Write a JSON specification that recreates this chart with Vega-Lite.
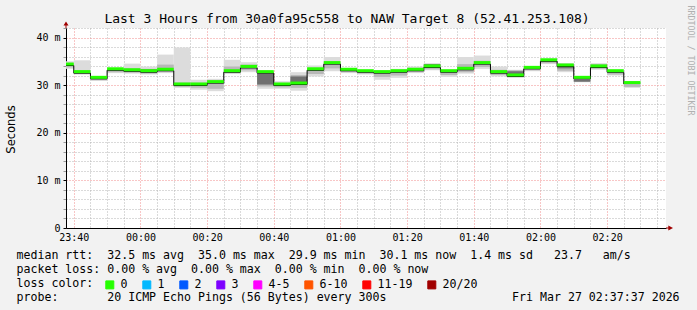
{
  "$schema": "https://vega.github.io/schema/vega-lite/v6.json",
  "width": 600,
  "height": 200,
  "autosize": {"type": "none"},
  "padding": {"left": 66, "top": 28, "right": 31, "bottom": 82},
  "background": "#f2f2f2",
  "config": {"view": {"fill": "#ffffff", "stroke": null}},
  "title": {
    "text": "Last 3 Hours from 30a0fa95c558 to NAW Target 8 (52.41.253.108)",
    "font": "DejaVu Sans Mono", "fontSize": 13, "fontWeight": "normal", "color": "#000000",
    "anchor": "middle", "dx": -19, "dy": 25, "offset": 4
  },
  "datasets": {
    "smoke": [
      {"t":"2026-03-26T23:35:00Z","t2":"2026-03-26T23:40:00Z","lo":33.5,"hi":35.1,"lo2":33.8,"hi2":34.6,"med":34.2,"loss":"0"},
      {"t":"2026-03-26T23:40:00Z","t2":"2026-03-26T23:45:00Z","lo":32.3,"hi":35.3,"lo2":32.4,"hi2":33.2,"med":32.6,"loss":"0"},
      {"t":"2026-03-26T23:45:00Z","t2":"2026-03-26T23:50:00Z","lo":31.0,"hi":31.9,"lo2":31.1,"hi2":31.7,"med":31.4,"loss":"0"},
      {"t":"2026-03-26T23:50:00Z","t2":"2026-03-26T23:55:00Z","lo":32.6,"hi":33.7,"lo2":32.8,"hi2":33.5,"med":33.2,"loss":"0"},
      {"t":"2026-03-26T23:55:00Z","t2":"2026-03-27T00:00:00Z","lo":32.5,"hi":34.6,"lo2":32.7,"hi2":33.6,"med":33.0,"loss":"0"},
      {"t":"2026-03-27T00:00:00Z","t2":"2026-03-27T00:05:00Z","lo":32.3,"hi":34.0,"lo2":32.5,"hi2":33.5,"med":32.8,"dlo":33.0,"dhi":33.4,"loss":"0"},
      {"t":"2026-03-27T00:05:00Z","t2":"2026-03-27T00:10:00Z","lo":32.6,"hi":36.5,"lo2":32.8,"hi2":34.4,"med":33.1,"loss":"0"},
      {"t":"2026-03-27T00:10:00Z","t2":"2026-03-27T00:15:00Z","lo":29.5,"hi":38.0,"lo2":29.7,"hi2":30.6,"med":30.0,"loss":"0"},
      {"t":"2026-03-27T00:15:00Z","t2":"2026-03-27T00:20:00Z","lo":29.1,"hi":31.2,"lo2":29.5,"hi2":30.6,"med":30.0,"loss":"0"},
      {"t":"2026-03-27T00:20:00Z","t2":"2026-03-27T00:25:00Z","lo":28.8,"hi":31.4,"lo2":29.3,"hi2":30.9,"med":30.5,"loss":"0"},
      {"t":"2026-03-27T00:25:00Z","t2":"2026-03-27T00:30:00Z","lo":32.4,"hi":35.4,"lo2":32.6,"hi2":34.0,"med":32.8,"loss":"0"},
      {"t":"2026-03-27T00:30:00Z","t2":"2026-03-27T00:35:00Z","lo":32.8,"hi":34.9,"lo2":33.2,"hi2":34.4,"med":33.7,"loss":"0"},
      {"t":"2026-03-27T00:35:00Z","t2":"2026-03-27T00:40:00Z","lo":29.3,"hi":33.0,"lo2":29.8,"hi2":32.9,"med":32.6,"dlo":30.2,"dhi":32.5,"loss":"0"},
      {"t":"2026-03-27T00:40:00Z","t2":"2026-03-27T00:45:00Z","lo":29.3,"hi":30.9,"lo2":29.6,"hi2":30.5,"med":30.0,"loss":"0"},
      {"t":"2026-03-27T00:45:00Z","t2":"2026-03-27T00:50:00Z","lo":28.9,"hi":32.8,"lo2":29.5,"hi2":32.2,"med":30.2,"dlo":30.6,"dhi":31.9,"loss":"0"},
      {"t":"2026-03-27T00:50:00Z","t2":"2026-03-27T00:55:00Z","lo":31.9,"hi":34.2,"lo2":32.4,"hi2":33.7,"med":33.2,"loss":"0"},
      {"t":"2026-03-27T00:55:00Z","t2":"2026-03-27T01:00:00Z","lo":33.0,"hi":36.0,"lo2":33.6,"hi2":35.0,"med":34.5,"loss":"0"},
      {"t":"2026-03-27T01:00:00Z","t2":"2026-03-27T01:05:00Z","lo":32.6,"hi":33.5,"lo2":32.8,"hi2":33.3,"med":33.1,"loss":"0"},
      {"t":"2026-03-27T01:05:00Z","t2":"2026-03-27T01:10:00Z","lo":32.3,"hi":33.2,"lo2":32.5,"hi2":33.0,"med":32.8,"loss":"0"},
      {"t":"2026-03-27T01:10:00Z","t2":"2026-03-27T01:15:00Z","lo":31.2,"hi":33.2,"lo2":31.8,"hi2":32.9,"med":32.6,"loss":"0"},
      {"t":"2026-03-27T01:15:00Z","t2":"2026-03-27T01:20:00Z","lo":31.6,"hi":33.5,"lo2":32.1,"hi2":33.1,"med":32.8,"loss":"0"},
      {"t":"2026-03-27T01:20:00Z","t2":"2026-03-27T01:25:00Z","lo":32.6,"hi":34.0,"lo2":32.8,"hi2":33.6,"med":33.1,"loss":"0"},
      {"t":"2026-03-27T01:25:00Z","t2":"2026-03-27T01:30:00Z","lo":33.2,"hi":34.7,"lo2":33.4,"hi2":34.3,"med":33.8,"dlo":34.0,"dhi":34.5,"loss":"0"},
      {"t":"2026-03-27T01:30:00Z","t2":"2026-03-27T01:35:00Z","lo":31.8,"hi":33.3,"lo2":32.2,"hi2":33.1,"med":32.8,"loss":"0"},
      {"t":"2026-03-27T01:35:00Z","t2":"2026-03-27T01:40:00Z","lo":32.5,"hi":36.0,"lo2":32.8,"hi2":34.5,"med":33.3,"loss":"0"},
      {"t":"2026-03-27T01:40:00Z","t2":"2026-03-27T01:45:00Z","lo":33.5,"hi":36.3,"lo2":33.9,"hi2":35.2,"med":34.5,"loss":"0"},
      {"t":"2026-03-27T01:45:00Z","t2":"2026-03-27T01:50:00Z","lo":31.9,"hi":34.0,"lo2":32.2,"hi2":33.3,"med":32.6,"loss":"0"},
      {"t":"2026-03-27T01:50:00Z","t2":"2026-03-27T01:55:00Z","lo":31.6,"hi":33.3,"lo2":31.8,"hi2":33.2,"med":31.9,"dlo":32.1,"dhi":33.0,"loss":"0"},
      {"t":"2026-03-27T01:55:00Z","t2":"2026-03-27T02:00:00Z","lo":33.0,"hi":33.9,"lo2":33.2,"hi2":33.8,"med":33.5,"loss":"0"},
      {"t":"2026-03-27T02:00:00Z","t2":"2026-03-27T02:05:00Z","lo":34.5,"hi":35.6,"lo2":34.7,"hi2":35.4,"med":35.1,"loss":"0"},
      {"t":"2026-03-27T02:05:00Z","t2":"2026-03-27T02:10:00Z","lo":32.8,"hi":34.7,"lo2":33.1,"hi2":34.5,"med":34.0,"dlo":33.6,"dhi":34.4,"loss":"0"},
      {"t":"2026-03-27T02:10:00Z","t2":"2026-03-27T02:15:00Z","lo":30.7,"hi":31.9,"lo2":30.9,"hi2":31.7,"med":31.4,"dlo":30.8,"dhi":31.2,"loss":"0"},
      {"t":"2026-03-27T02:15:00Z","t2":"2026-03-27T02:20:00Z","lo":33.3,"hi":34.7,"lo2":33.5,"hi2":34.5,"med":33.8,"loss":"0"},
      {"t":"2026-03-27T02:20:00Z","t2":"2026-03-27T02:25:00Z","lo":32.1,"hi":33.2,"lo2":32.3,"hi2":33.0,"med":32.8,"loss":"0"},
      {"t":"2026-03-27T02:25:00Z","t2":"2026-03-27T02:30:00Z","lo":29.5,"hi":30.9,"lo2":29.7,"hi2":30.7,"med":30.3,"loss":"0"}
    ]
  },
  "data": {"name": "smoke"},
  "encoding": {
    "x": {
      "field": "t", "type": "temporal",
      "scale": {"domain": [1774568260000, 1774579060000]},
      "axis": {
        "values": [1774568400000,1774568700000,1774569000000,1774569300000,1774569600000,1774569900000,1774570200000,1774570500000,1774570800000,1774571100000,1774571400000,1774571700000,1774572000000,1774572300000,1774572600000,1774572900000,1774573200000,1774573500000,1774573800000,1774574100000,1774574400000,1774574700000,1774575000000,1774575300000,1774575600000,1774575900000,1774576200000,1774576500000,1774576800000,1774577100000,1774577400000,1774577700000,1774578000000,1774578300000,1774578600000,1774578900000],
        "labelExpr": "utcminutes(datum.value) % 20 === 0 ? utcFormat(datum.value, '%H:%M') : ''",
        "labelFlush": false, "labelOverlap": false,
        "labelFont": "DejaVu Sans Mono", "labelFontSize": 10, "labelColor": "#000000", "labelPadding": 4,
        "ticks": false,
        "grid": true,
        "gridColor": {"condition": {"test": "utcminutes(datum.value) % 20 === 0", "value": "#f08c8c"}, "value": "#b4b4b4"},
        "gridDash": [1, 2],
        "domainColor": "#000000",
        "title": [
          "median rtt:\u00a0\u00a032.5 ms avg\u00a0\u00a035.0 ms max\u00a0\u00a029.9 ms min\u00a0\u00a030.1 ms now\u00a0\u00a01.4 ms sd\u00a0\u00a0\u00a023.7\u00a0\u00a0\u00a0am/s",
          "packet loss: 0.00 % avg\u00a0\u00a00.00 % max\u00a0\u00a00.00 % min\u00a0\u00a00.00 % now",
          "loss color:",
          "probe:\u00a0\u00a0\u00a0\u00a0\u00a0\u00a0\u00a020 ICMP Echo Pings (56 Bytes) every 300s\u00a0\u00a0\u00a0\u00a0\u00a0\u00a0\u00a0\u00a0\u00a0\u00a0\u00a0\u00a0\u00a0\u00a0\u00a0\u00a0\u00a0\u00a0Fri Mar 27 02:37:37 2026"
        ],
        "titleFont": "DejaVu Sans Mono", "titleFontSize": 11.6, "titleFontWeight": "normal", "titleColor": "#000000",
        "titleAlign": "left", "titleAnchor": "start", "titleBaseline": "alphabetic",
        "titleX": -50, "titleY": 30, "titleLineHeight": 14
      }
    }
  },
  "layer": [
    {
      "mark": {"type": "rect", "clip": true, "color": "#dcdcdc"},
      "encoding": {
        "x2": {"field": "t2"},
        "y": {
          "field": "lo", "type": "quantitative",
          "scale": {"domain": [0, 42.1], "nice": false},
          "axis": {
            "orient": "left",
            "values": [0,2,4,6,8,10,12,14,16,18,20,22,24,26,28,30,32,34,36,38,40,42],
            "labelExpr": "datum.value % 10 === 0 ? (datum.value === 0 ? '0' : datum.value + ' m') : ''",
            "labelOverlap": false,
            "labelFont": "DejaVu Sans Mono", "labelFontSize": 10, "labelColor": "#000000", "labelPadding": 3,
            "tickSize": 3,
            "tickColor": {"condition": {"test": "datum.value % 10 === 0", "value": "#000000"}, "value": "#999999"},
            "grid": true,
            "gridColor": {"condition": {"test": "datum.value % 10 === 0", "value": "#f08c8c"}, "value": "#b4b4b4"},
            "gridDash": [1, 2],
            "domainColor": "#000000",
            "title": "Seconds", "titleFont": "DejaVu Sans", "titleFontSize": 11.5, "titleFontWeight": "normal",
            "titleColor": "#000000", "titleAngle": -90, "titleX": -55, "titleY": 101,
            "titleAlign": "center", "titleBaseline": "middle"
          }
        },
        "y2": {"field": "hi"}
      }
    },
    {
      "mark": {"type": "rect", "clip": true, "color": "#b8b8b8"},
      "encoding": {
        "x2": {"field": "t2"},
        "y": {"field": "lo2", "type": "quantitative", "axis": null},
        "y2": {"field": "hi2"}
      }
    },
    {
      "mark": {"type": "rect", "clip": true, "color": "#707070"},
      "encoding": {
        "x2": {"field": "t2"},
        "y": {"field": "dlo", "type": "quantitative", "axis": null},
        "y2": {"field": "dhi"}
      }
    },
    {
      "mark": {"type": "line", "interpolate": "step-after", "color": "#000000", "strokeWidth": 1, "clip": true},
      "encoding": {
        "y": {"field": "med", "type": "quantitative", "axis": null}
      }
    },
    {
      "mark": {"type": "rule", "strokeWidth": 3, "yOffset": -1.5, "clip": true},
      "encoding": {
        "x2": {"field": "t2"},
        "y": {
          "field": "med", "type": "quantitative",
          "axis": {
            "orient": "right", "labels": false, "ticks": false, "domain": false, "grid": false,
            "title": "RRDTOOL / TOBI OETIKER", "titleFont": "DejaVu Sans Mono", "titleFontSize": 8.3,
            "titleFontWeight": "normal", "titleColor": "#b0b0b0", "titleAngle": 90,
            "titleX": 23, "titleY": -23, "titleAlign": "left", "titleBaseline": "middle"
          }
        },
        "color": {
          "field": "loss", "type": "nominal",
          "scale": {
            "domain": ["0", "1", "2", "3", "4-5", "6-10", "11-19", "20/20"],
            "range": ["#26ff00", "#00b8ff", "#0059ff", "#7e00ff", "#ff00ff", "#ff5500", "#ff0000", "#a10000"]
          },
          "legend": {
            "orient": "none", "legendX": 38, "legendY": 251, "direction": "horizontal",
            "title": null, "padding": 0, "columnPadding": 12, "labelOffset": 5,
            "symbolType": "square", "symbolSize": 64,
            "labelFont": "DejaVu Sans Mono", "labelFontSize": 11.6, "labelColor": "#000000", "labelLimit": 100,
            "encode": {
              "symbols": {
                "update": {
                  "fill": {"scale": "color", "field": "value"},
                  "stroke": {"value": "#000000"},
                  "strokeWidth": {"value": 1},
                  "opacity": {"value": 1},
                  "fillOpacity": {"value": 1}
                }
              }
            }
          }
        }
      }
    },
    {
      "data": {"values": [{"t": 1774579060000, "v": 0}]},
      "mark": {"type": "point", "filled": true, "color": "#a00000", "opacity": 1, "size": 196,
               "shape": "M0,-0.07L0.33,-0.07L0.33,-0.36L1,0L0.33,0.36L0.33,0.07L0,0.07Z"},
      "encoding": {
        "y": {"field": "v", "type": "quantitative", "axis": null}
      }
    },
    {
      "data": {"values": [{"t": 1774568260000, "v": 42.1}]},
      "mark": {"type": "point", "filled": true, "color": "#a00000", "opacity": 1, "size": 196,
               "shape": "M-0.07,0L-0.07,-0.37L-0.36,-0.37L0,-0.94L0.36,-0.37L0.07,-0.37L0.07,0Z"},
      "encoding": {
        "y": {"field": "v", "type": "quantitative", "axis": null}
      }
    }
  ],
  "resolve": {"axis": {"y": "independent"}}
}
